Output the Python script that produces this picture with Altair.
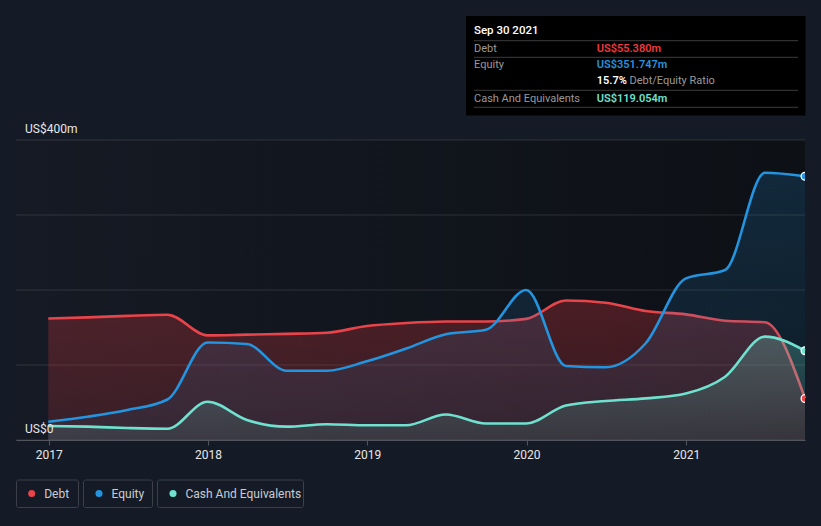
import altair as alt
import pandas as pd

# ---------------- data ----------------
dates = ["2016-12-31", "2017-03-31", "2017-06-30", "2017-09-30", "2017-12-31",
         "2018-03-31", "2018-06-30", "2018-09-30", "2018-12-31", "2019-03-31",
         "2019-06-30", "2019-09-30", "2019-12-31", "2020-03-31", "2020-06-30",
         "2020-09-30", "2020-12-31", "2021-03-31", "2021-06-30", "2021-09-30"]
debt = [162.0, 163.5, 165.5, 167.0, 139.5, 140.5, 141.5, 143.0, 152.0, 156.0,
        158.0, 158.0, 161.5, 186.0, 183.0, 172.0, 167.5, 159.0, 157.0, 55.380]
equity = [24.4, 31.0, 40.0, 54.0, 130.0, 128.0, 92.4, 92.4, 105.0, 122.0,
          141.0, 147.0, 200.0, 98.7, 97.0, 129.0, 215.5, 226.7, 356.4, 351.747]
cash = [18.7, 17.8, 16.0, 15.0, 51.0, 26.7, 17.8, 21.0, 19.6, 19.6,
        34.0, 22.0, 22.0, 46.0, 52.0, 55.5, 62.0, 84.4, 137.8, 119.054]
years = [2017, 2018, 2019, 2020, 2021]
grid_values = [0, 100, 200, 300, 400]
y_labels = ["US$0", "", "", "", "US$400m"]
series = ["Debt", "Equity", "Cash And Equivalents"]
colors = ["#e8444a", "#2394df", "#6fe2cf"]
rgbs = [(229, 57, 63), (35, 148, 223), (108, 224, 203)]
alphas = [(0.28, 0.17), (0.19, 0.08), (0.26, 0.10)]

W, H = 789, 300
FONT = "Roboto"
BG = "#151b26"

df = pd.DataFrame({"date": pd.to_datetime(dates), "Debt": debt,
                   "Equity": equity, "Cash And Equivalents": cash})
long = df.melt("date", var_name="series", value_name="value")
last = long[long["date"] == long["date"].max()]
grid_df = pd.DataFrame({"v": grid_values, "label": y_labels})
one = pd.DataFrame({"k": [0]})

x_scale = alt.Scale(domain=[alt.DateTime(year=2016, month=10, date=18),
                            alt.DateTime(year=2021, month=9, date=30)])
y_scale = alt.Scale(domain=[0, 400], nice=False, zero=True)
x_axis = alt.Axis(values=[alt.DateTime(year=y, month=1, date=1) for y in years],
                  format="%Y", grid=False, domainColor="#50555e", tickColor="#50555e",
                  tickSize=5, labelColor="#e8e8e8", labelFontSize=12, labelFont=FONT,
                  labelPadding=4, labelBaseline="top", title=None, zindex=1)
X = alt.X("date:T", scale=x_scale, axis=x_axis)
Y = alt.Y("value:Q", scale=y_scale, axis=None)


def vrect(x, x2, y, y2, **kw):
    return alt.Chart(one).mark_rect(**kw).encode(
        x=alt.value(x), x2=alt.value(x2), y=alt.value(y), y2=alt.value(y2))


def vrule(x, x2, y, **kw):
    return alt.Chart(one).mark_rule(**kw).encode(
        x=alt.value(x), x2=alt.value(x2), y=alt.value(y))


def vtext(x, y, text, **kw):
    return alt.Chart(one).mark_text(**kw).encode(
        x=alt.value(x), y=alt.value(y), text=alt.value(text))


layers = []
# plot background
layers.append(vrect(0, W, 0, H, fill=alt.Gradient(
    gradient="linear", x1=0, x2=1, y1=0, y2=0,
    stops=[alt.GradientStop(color="#151a24", offset=0),
           alt.GradientStop(color="#0d1015", offset=1)])))
# gridlines
layers.append(alt.Chart(grid_df).mark_rule(color="#ffffff", opacity=0.12).encode(
    y=alt.Y("v:Q", scale=y_scale, axis=None), x=alt.value(0), x2=alt.value(W)))

for name, c, (r, g, b), (a1, a2) in zip(series, colors, rgbs, alphas):
    base = alt.Chart(long).transform_filter(alt.datum.series == name)
    grad = alt.Gradient(gradient="linear", x1=0, x2=0, y1=0, y2=1, stops=[
        alt.GradientStop(color=f"rgba({r},{g},{b},{a1})", offset=0),
        alt.GradientStop(color=f"rgba({r},{g},{b},{a2})", offset=1)])
    layers.append(base.mark_area(interpolate="monotone", color=grad).encode(x=X, y=Y))
    layers.append(base.mark_line(interpolate="monotone", color=c, strokeWidth=2.6).encode(x=X, y=Y))

# end markers
layers.append(alt.Chart(last).mark_circle(size=60, opacity=1, stroke="#ffffff",
                                          strokeWidth=1.3, clip=True).encode(
    x=X, y=Y, color=alt.Color("series:N", scale=alt.Scale(domain=series, range=colors), legend=None)))

# y labels
layers.append(alt.Chart(grid_df).transform_filter("datum.label != ''").mark_text(
    align="left", baseline="alphabetic", dx=9, dy=-7.5, color="#e8e8e8",
    fontSize=12, font=FONT).encode(y=alt.Y("v:Q", scale=y_scale, axis=None),
                                   x=alt.value(0), text="label:N"))

# tooltip box
ratio = debt[-1] / equity[-1] * 100
d = pd.to_datetime(dates[-1])
title_txt = f"{d.strftime('%b')} {d.day} {d.year}"
layers.append(vrect(450, 789.5, -124, -24.5, fill="#000000"))
layers.append(vtext(458, -109, title_txt, align="left", baseline="middle", color="#ffffff",
                    fontSize=11.5, font=FONT, fontWeight=500))
for yy in [-99.3, -82.7, -49.7, -32.7]:
    layers.append(vrule(458, 782, yy, color="#3c3c3c", strokeWidth=1))
lab_kw = dict(align="left", baseline="middle", fontSize=11, font=FONT)
layers.append(vtext(458, -91.5, "Debt", color="#9a9a9a", **lab_kw))
layers.append(vtext(580.7, -91.5, f"US${debt[-1]:.3f}m", color="#f0393e", fontWeight=600, **lab_kw))
layers.append(vtext(458, -75, "Equity", color="#9a9a9a", **lab_kw))
layers.append(vtext(580.7, -75, f"US${equity[-1]:.3f}m", color="#2394df", fontWeight=600, **lab_kw))
layers.append(vtext(580.7, -59, f"{ratio:.1f}%", color="#ffffff", fontWeight=600, **lab_kw))
layers.append(vtext(613.5, -59, "Debt/Equity Ratio", color="#9a9a9a", **lab_kw))
layers.append(vtext(458, -41.5, "Cash And Equivalents", color="#9a9a9a", **lab_kw))
layers.append(vtext(580.7, -41.5, f"US${cash[-1]:.3f}m", color="#6fe2cf", fontWeight=600, **lab_kw))

# legend
boxes = [(0.5, 62.5), (67.5, 136.5), (141.5, 287.5)]
dots_x = [15.7, 83, 157]
for name, c, (bx1, bx2), dx in zip(series, colors, boxes, dots_x):
    layers.append(vrect(bx1, bx2, 340, 367.5, stroke="#3b4049", strokeWidth=1,
                        fillOpacity=0, cornerRadius=2))
    layers.append(alt.Chart(one).mark_circle(size=50, color=c, opacity=1).encode(
        x=alt.value(dx), y=alt.value(353.5)))
    layers.append(vtext(dx + 12.5, 353.5, name, align="left", baseline="middle",
                        color="#c9ccd1", fontSize=12, font=FONT))

chart = alt.layer(*layers).properties(
    width=W, height=H,
    padding={"left": 16, "top": 140, "right": 16, "bottom": 86},
    autosize=alt.AutoSizeParams(type="none"),
    background=BG,
).configure_view(stroke="transparent")

chart.save("out.html", embed_options={"renderer": "svg", "actions": False})
